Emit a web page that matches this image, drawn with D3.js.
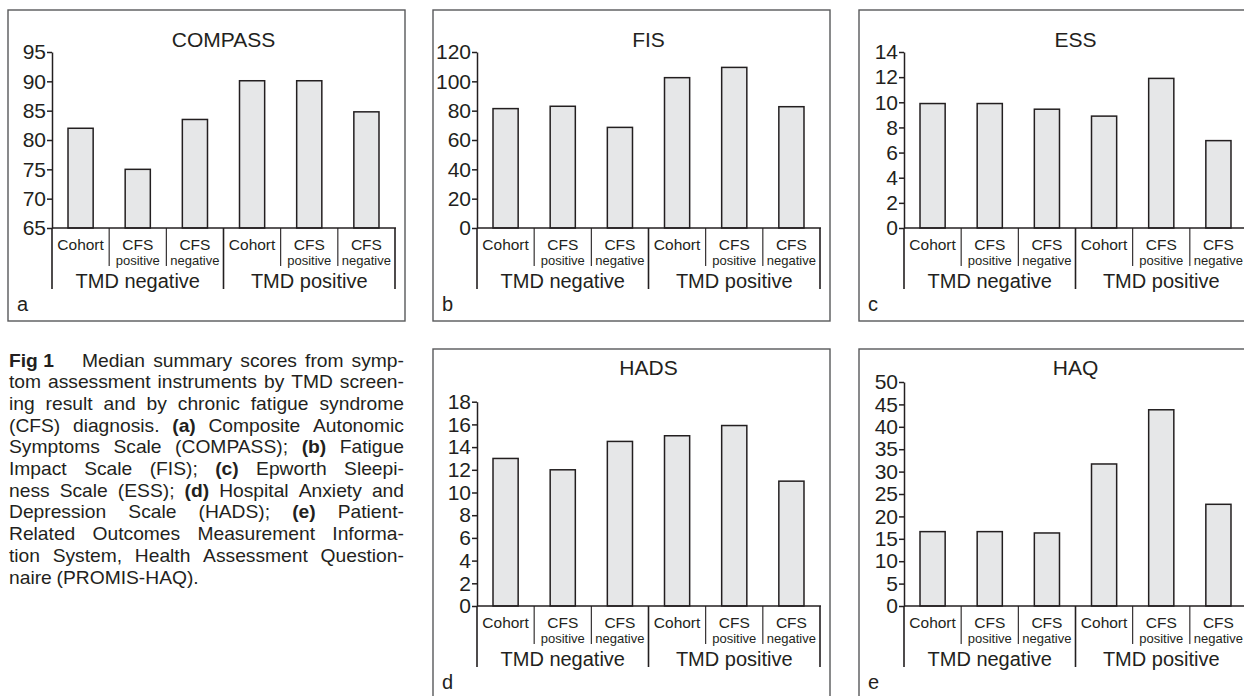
<!DOCTYPE html>
<html>
<head>
<meta charset="utf-8">
<script src="https://cdn.jsdelivr.net/npm/d3@7"></script>
<style>
body {margin: 0; background: #fff}
svg {display: block; font-family: "Liberation Sans", Arial, Helvetica, sans-serif}
</style>
</head>
<body>
<svg id="chart" width="1244" height="696"></svg>
<script>
var categories = ["Cohort", "CFS positive", "CFS negative", "Cohort", "CFS positive", "CFS negative"]
var groups = ["TMD negative", "TMD positive"]

// medians
var compassValues = [82, 75, 83.5, 90.1, 90.1, 84.8]
var fisValues = [81.4, 83, 68.6, 102.5, 109.5, 82.7]
var essValues = [9.9, 9.9, 9.45, 8.9, 11.9, 6.95]
var hadsValues = [13, 12, 14.5, 15, 15.9, 11]
var haqValues = [16.6, 16.6, 16.3, 31.7, 43.8, 22.7]

var compassTicks = [65, 70, 75, 80, 85, 90, 95]
var fisTicks = [0, 20, 40, 60, 80, 100, 120]
var essTicks = [0, 2, 4, 6, 8, 10, 12, 14]
var hadsTicks = [0, 2, 4, 6, 8, 10, 12, 14, 16, 18]
var haqTicks = [0, 5, 10, 15, 20, 25, 30, 35, 40, 45, 50]

var captionLines = [
	"Fig\u00a01 Median summary scores from symp-",
	"tom assessment instruments by TMD screen-",
	"ing result and by chronic fatigue syndrome",
	"(CFS) diagnosis. (a) Composite Autonomic",
	"Symptoms Scale (COMPASS); (b) Fatigue",
	"Impact Scale (FIS); (c) Epworth Sleepi-",
	"ness Scale (ESS); (d) Hospital Anxiety and",
	"Depression Scale (HADS); (e) Patient-",
	"Related Outcomes Measurement Informa-",
	"tion System, Health Assessment Question-",
	"naire (PROMIS-HAQ)."
]

var ink = '#231f20'
var svg = d3.select('#chart')

// panel placement
var panels = [
	{title: 'COMPASS', letter: 'a', values: compassValues, ticks: compassTicks, boxX: 8, boxY: 10, boxH: 311, axisX: 52, yTop: 52, yBase: 228, titleY: 47},
	{title: 'FIS', letter: 'b', values: fisValues, ticks: fisTicks, boxX: 433, boxY: 10, boxH: 311, axisX: 477, yTop: 52, yBase: 228, titleY: 47},
	{title: 'ESS', letter: 'c', values: essValues, ticks: essTicks, boxX: 859, boxY: 10, boxH: 311, axisX: 904, yTop: 52, yBase: 228, titleY: 47},
	{title: 'HADS', letter: 'd', values: hadsValues, ticks: hadsTicks, boxX: 433, boxY: 349, boxH: 360, axisX: 477, yTop: 401.7, yBase: 606, titleY: 375},
	{title: 'HAQ', letter: 'e', values: haqValues, ticks: haqTicks, boxX: 859, boxY: 349, boxH: 360, axisX: 904, yTop: 382, yBase: 606, titleY: 375}
]

function drawPanel(p) {
	var g = svg.append('g').attr('class', 'panel')
	var plotW = 343

	g.append('rect')
		.attr('x', p.boxX).attr('y', p.boxY)
		.attr('width', 397).attr('height', p.boxH)
		.attr('fill', 'none').attr('stroke', '#58595b').attr('stroke-width', 1.4)

	var x = d3.scaleBand()
		.domain(d3.range(categories.length))
		.range([p.axisX, p.axisX + plotW])
		.paddingInner(0.56).paddingOuter(0.28)
	var y = d3.scaleLinear().domain(d3.extent(p.ticks)).range([p.yBase, p.yTop])
	var step = x.step()

	g.selectAll('rect.bar').data(p.values).enter().append('rect')
		.attr('class', 'bar')
		.attr('x', function(d, i) {return x(i)})
		.attr('y', function(d) {return y(d)})
		.attr('width', x.bandwidth())
		.attr('height', function(d) {return y(y.domain()[0]) - y(d)})
		.attr('fill', '#e6e7e8').attr('stroke', ink).attr('stroke-width', 1.5)

	var yAxis = g.append('g')
		.attr('transform', 'translate(' + p.axisX + ',0)')
		.call(d3.axisLeft(y).tickValues(p.ticks).tickSize(5).tickSizeOuter(0).tickPadding(1).tickFormat(d3.format('d')))
	yAxis.selectAll('path, line').attr('stroke', ink).attr('stroke-width', 1.5)
	yAxis.selectAll('text').attr('fill', ink).attr('font-size', 21).attr('font-family', null)

	// baseline and category dividers
	g.append('line')
		.attr('x1', p.axisX).attr('x2', p.axisX + plotW + 1)
		.attr('y1', p.yBase).attr('y2', p.yBase)
		.attr('stroke', ink).attr('stroke-width', 1.6)

	g.selectAll('line.div').data(d3.range(categories.length + 1)).enter().append('line')
		.attr('class', 'div')
		.attr('x1', function(i) {return p.axisX + i * step})
		.attr('x2', function(i) {return p.axisX + i * step})
		.attr('y1', p.yBase)
		.attr('y2', function(i) {return p.yBase + (i % 3 === 0 ? 61 : 38)})
		.attr('stroke', ink).attr('stroke-width', function(i) {return i % 3 === 0 ? 1.6 : 1.1})

	var cat = g.selectAll('g.cat').data(categories).enter().append('g')
		.attr('class', 'cat')
		.attr('transform', function(d, i) {return 'translate(' + (p.axisX + (i + 0.5) * step) + ',0)'})
	cat.append('text')
		.attr('y', p.yBase + 21.5)
		.attr('text-anchor', 'middle').attr('font-size', 15.5).attr('fill', ink)
		.text(function(d) {return d.split(' ')[0]})
	cat.append('text')
		.attr('y', p.yBase + 37)
		.attr('text-anchor', 'middle').attr('font-size', 13).attr('fill', ink)
		.text(function(d) {return d.split(' ')[1] || ''})

	g.selectAll('text.grp').data(groups).enter().append('text')
		.attr('class', 'grp')
		.attr('x', function(d, i) {return p.axisX + (i * 3 + 1.5) * step})
		.attr('y', p.yBase + 60)
		.attr('text-anchor', 'middle').attr('font-size', 20).attr('fill', ink)
		.text(function(d) {return d})

	g.append('text')
		.attr('x', p.axisX + plotW / 2).attr('y', p.titleY)
		.attr('text-anchor', 'middle').attr('font-size', 21).attr('fill', ink)
		.text(p.title)

	g.append('text')
		.attr('x', p.boxX + 9).attr('y', p.yBase + 83)
		.attr('font-size', 20).attr('fill', ink)
		.text(p.letter)
}

panels.forEach(drawPanel)

// caption, justified line by line
var capFont = 17.5, capStretch = 1.1, capLeft = 9, capWidth = 395
var capGroup = svg.append('g').attr('fill', ink)
captionLines.forEach(function(line, li) {
	var yy = 366.5 + li * 21.7
	var last = li === captionLines.length - 1
	var items = line.split(' ').map(function(w) {
		var t = capGroup.append('text')
			.attr('font-size', capFont)
			.attr('font-weight', /^Fig|^\([a-e]\)$/.test(w) ? 'bold' : null)
			.text(w)
		return {node: t, w: t.node().getComputedTextLength()}
	})
	var stretch = capStretch
	var extra = li === 0 ? 20 : 0
	var raw = d3.sum(items, function(d) {return d.w})
	var gap = last ? 4.8 : (capWidth - raw * stretch - extra) / (items.length - 1)
	if (!last && gap < 3.5) {
		gap = 3.5
		stretch = (capWidth - extra - gap * (items.length - 1)) / raw
	}
	var cx = capLeft
	items.forEach(function(it, k) {
		it.node.attr('transform', 'translate(' + cx + ',' + yy + ') scale(' + stretch + ',1)')
		cx += it.w * stretch + gap + (k === 0 ? extra : 0)
	})
})
</script>
</body>
</html>
